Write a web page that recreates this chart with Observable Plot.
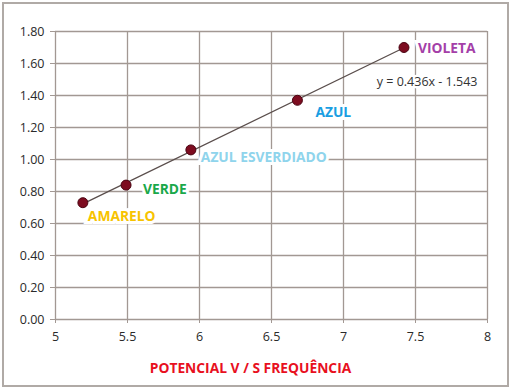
<!DOCTYPE html>
<html>
<head>
<meta charset="utf-8">
<script src="https://cdn.jsdelivr.net/npm/d3@7"></script>
<script src="https://cdn.jsdelivr.net/npm/@observablehq/plot@0.6"></script>
<style>
  html, body { margin: 0; padding: 0; background: #fff; }
  #wrap { position: relative; width: 511px; height: 391px; }
  #border { position: absolute; left: 2px; top: 2px; width: 503px; height: 381px; border: 2px solid #b0aaa6; pointer-events: none; }
</style>
</head>
<body>
<div id="wrap"><div id="border"></div></div>
<script>
const freq = [5.19, 5.49, 5.94, 6.68, 7.42];
const potential = [0.73, 0.84, 1.06, 1.37, 1.70];
const names = ["AMARELO", "VERDE", "AZUL ESVERDIADO", "AZUL", "VIOLETA"];
const labelColors = ["#f7c300", "#1aa84a", "#8fd4ec", "#1a9ee2", "#a43fa8"];
const xTicks = [5, 5.5, 6, 6.5, 7, 7.5, 8];
const yTicks = [0, 0.2, 0.4, 0.6, 0.8, 1.0, 1.2, 1.4, 1.6, 1.8];
const equation = "y = 0.436x - 1.543";
const title = "POTENCIAL V / S FREQUÊNCIA";

const data = freq.map((x, i) => ({x, y: potential[i], name: names[i], color: labelColors[i]}));

// label offsets (style, not data)
const offsets = [[5, 14], [17, 4], [10, 8], [18, 12], [14, 1]];

const gridColor = "#a29893";
const boldFont = "'Open Sans', sans-serif";

const labelMarks = data.map((d, i) => Plot.text([d], {
  x: "x", y: "y", text: "name", fill: "color",
  dx: offsets[i][0], dy: offsets[i][1], textAnchor: "start",
  fontWeight: "bold", fontSize: 13.8, fontFamily: boldFont,
  stroke: "white", strokeWidth: 6, strokeLinejoin: "miter"
}));

const chart = Plot.plot({
  width: 511, height: 391,
  marginLeft: 55, marginRight: 24, marginTop: 31, marginBottom: 72,
  x: {domain: [5, 8], ticks: xTicks, tickFormat: d => String(d)},
  y: {domain: [0, 1.8], ticks: yTicks, tickFormat: d => d.toFixed(2)},
  style: {fontFamily: "'Open Sans', sans-serif", fontSize: "12.5px", color: "#333", background: "transparent"},
  marks: [
    Plot.gridX(xTicks, {stroke: gridColor, strokeOpacity: 1, strokeWidth: 1.3}),
    Plot.gridY(yTicks, {stroke: gridColor, strokeOpacity: 1, strokeWidth: 1.3}),
    Plot.axisX(xTicks, {tickSize: 4, tickPadding: 9, stroke: gridColor, fill: "#2a2a2a", label: null, tickFormat: d => String(d)}),
    Plot.axisY(yTicks, {tickSize: 5, tickPadding: 6, stroke: gridColor, fill: "#2a2a2a", label: null, tickFormat: d => d.toFixed(2)}),
    Plot.linearRegressionY(data, {x: "x", y: "y", ci: 0, stroke: "#5a4e4c", strokeWidth: 1.3}),
    Plot.dot(data, {x: "x", y: "y", r: 5, fill: "#7d0c20", stroke: "#4a0412", strokeWidth: 1}),
    ...labelMarks,
    Plot.text([equation], {text: d => d, frameAnchor: "top-right", dx: -10, dy: 50, textAnchor: "end", lineAnchor: "middle",
      fill: "#333", fontSize: 12.5, stroke: "white", strokeWidth: 5}),
    Plot.text([title], {text: d => d, frameAnchor: "bottom", dx: -21, dy: 49, lineAnchor: "middle",
      fill: "#e8101e", fontWeight: "bold", fontSize: 13.8, fontFamily: boldFont})
  ]
});
document.getElementById("wrap").prepend(chart);
</script>
</body>
</html>
